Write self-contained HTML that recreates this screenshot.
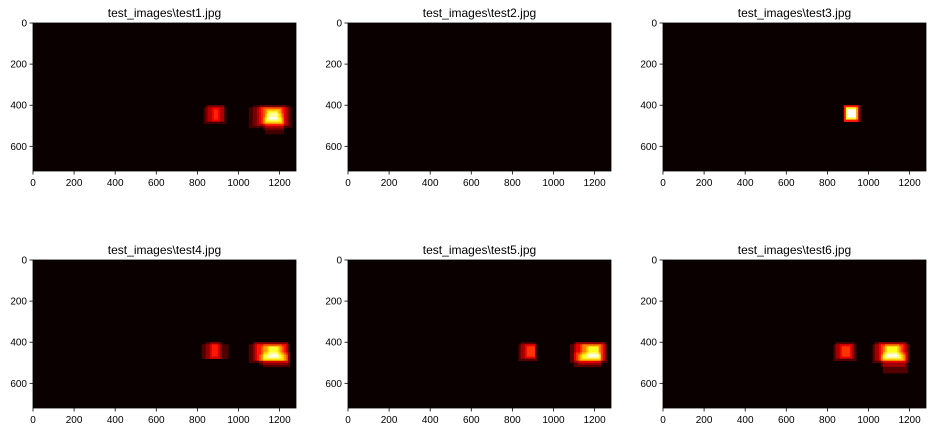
<!DOCTYPE html>
<html><head><meta charset="utf-8"><style>
body{margin:0;background:#fff;}
svg{display:block;font-family:"Liberation Sans","DejaVu Sans",sans-serif;}
</style></head><body>
<svg id="chart" width="936" height="432"></svg>
<script>
const titles=["test_images\\test1.jpg","test_images\\test2.jpg","test_images\\test3.jpg","test_images\\test4.jpg","test_images\\test5.jpg","test_images\\test6.jpg"];
const xTicks=[0,200,400,600,800,1000,1200];
const yTicks=[0,200,400,600];
// detection boxes per panel [x0,y0,x1,y1] in image pixel coords
const boxes1=[[830,410,940,490],[850,400,930,480],[845,405,935,485],[870,410,915,480],[880,420,905,475],
 [1055,410,1265,510],[1070,400,1250,500],[1090,410,1240,500],[1100,405,1235,495],[1110,415,1225,495],[1120,410,1215,490],[1130,420,1210,485],[1140,425,1200,480],[1145,430,1195,475],[1150,430,1190,470],[1130,440,1220,540],[1120,460,1225,520]];
const boxes2=[];
const boxes3=[[880,400,960,480],[885,405,955,480],[890,410,950,470],[895,415,945,470],[900,420,940,465]];
const boxes4=[[820,410,950,485],[840,400,920,480],[860,405,910,480],[875,415,900,475],
 [1050,410,1250,500],[1070,400,1245,495],[1080,405,1240,495],[1095,410,1235,490],[1110,420,1225,490],[1125,415,1215,485],[1140,420,1205,480],[1150,425,1195,475],[1120,450,1250,520],[1100,460,1240,515]];
const boxes5=[[830,410,925,495],[845,400,915,485],[860,410,915,480],[875,420,910,475],
 [1080,410,1260,500],[1100,400,1255,495],[1115,405,1250,490],[1130,415,1240,490],[1145,410,1235,485],[1160,420,1225,480],[1170,425,1220,475],[1100,450,1235,520],[1120,460,1230,515]];
const boxes6=[[830,410,940,495],[845,400,935,485],[860,410,925,480],[875,420,910,470],
 [1025,410,1200,500],[1035,400,1195,495],[1050,405,1185,490],[1060,410,1175,490],[1075,420,1165,485],[1085,415,1155,480],[1095,425,1145,475],[1070,450,1190,550],[1060,460,1185,520]];
const panelBoxes=[boxes1,boxes2,boxes3,boxes4,boxes5,boxes6];
const W=1280,H=720,CELL=10;
const svg=document.getElementById('chart');
const NS='http://www.w3.org/2000/svg';
function mk(t,a){const e=document.createElementNS(NS,t);for(const k in a)e.setAttribute(k,a[k]);return e;}
function hot(v){const c=x=>Math.max(0,Math.min(1,x));
 const r=v<0.365?0.0416+(v/0.365)*(1-0.0416):1;
 const g=c((v-0.365)/0.381),b=c((v-0.746)/0.254);
 return `rgb(${Math.round(c(r)*255)},${Math.round(g*255)},${Math.round(b*255)})`;}
const lefts=[33,348,663],tops=[23,260],AW=263,AH=148;
panelBoxes.forEach((bx,i)=>{
 const L=lefts[i%3],T=tops[Math.floor(i/3)];
 const sx=v=>L+v*AW/W, sy=v=>T+v*AH/H;
 const g=mk('g',{});
 
 
 svg.appendChild(g);
 const bg=mk('rect',{x:L,y:T,width:AW,height:AH,fill:hot(0)});
 
 
 g.appendChild(bg);
 const nx=W/CELL,ny=H/CELL,heat=[];let mx=0;
 for(let r=0;r<ny;r++){heat.push([]);for(let c=0;c<nx;c++){const cx=c*CELL+CELL/2,cy=r*CELL+CELL/2;let h=0;
  bx.forEach(b=>{if(cx>=b[0]&&cx<b[2]&&cy>=b[1]&&cy<b[3])h++;});heat[r].push(h);if(h>mx)mx=h;}}
 for(let r=0;r<ny;r++)for(let c=0;c<nx;c++){const h=heat[r][c];if(!h)continue;
  const x0=sx(c*CELL),y0=sy(r*CELL);
  const cell=mk('rect',{x:x0,y:y0,width:sx((c+1)*CELL)-x0+0.3,height:sy((r+1)*CELL)-y0+0.3,fill:hot(h/mx)});
  
  
  g.appendChild(cell);}
 const fr=mk('rect',{x:L,y:T,width:AW,height:AH,fill:'none',stroke:'#000','stroke-width':0.8});
 
 
 g.appendChild(fr);
 const tt=mk('text',{x:L+AW/2,y:T-6,'text-anchor':'middle','font-size':12,fill:'#000'});
 tt.textContent=titles[i];
 
 
 g.appendChild(tt);
 xTicks.forEach(v=>{const x=sx(v);
  g.appendChild(mk('line',{x1:x,x2:x,y1:T+AH,y2:T+AH+3.5,stroke:'#000','stroke-width':0.8}));
  const t=mk('text',{x:x,y:T+AH+15,'text-anchor':'middle','font-size':10,fill:'#000'});t.textContent=v;
  
  
  g.appendChild(t);});
 yTicks.forEach(v=>{const y=sy(v);
  g.appendChild(mk('line',{x1:L-3.5,x2:L,y1:y,y2:y,stroke:'#000','stroke-width':0.8}));
  const t=mk('text',{x:L-6,y:y+3.5,'text-anchor':'end','font-size':10,fill:'#000'});t.textContent=v;
  
  
  g.appendChild(t);});
});
</script>
</body></html>
